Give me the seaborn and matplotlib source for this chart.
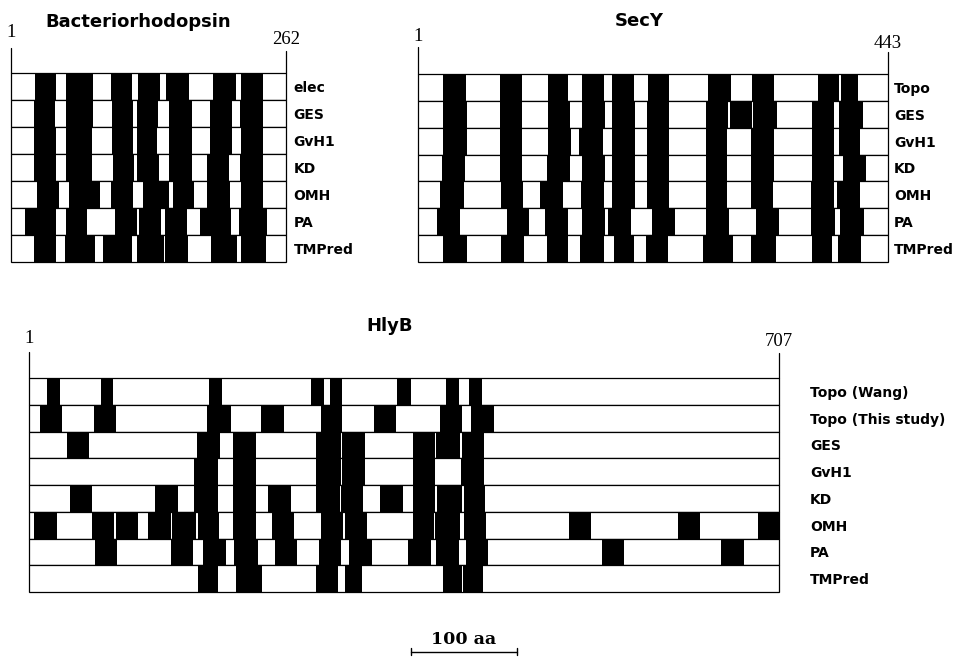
import numpy as np
import pandas as pd
import matplotlib
matplotlib.use("Agg")
import matplotlib.pyplot as plt
import seaborn as sns

# ---------------- data (residue ranges of predicted / observed TM segments) ----------------
br_length = 262
br_methods = ["elec", "GES", "GvH1", "KD", "OMH", "PA", "TMPred"]
br_elec = [(23, 43), (52, 78), (95, 115), (121, 142), (148, 170), (192, 214), (219, 240)]
br_ges = [(22, 42), (52, 78), (96, 116), (120, 140), (151, 172), (190, 211), (218, 240)]
br_gvh1 = [(22, 43), (52, 77), (96, 116), (120, 139), (151, 172), (190, 211), (219, 240)]
br_kd = [(22, 43), (52, 77), (97, 117), (120, 141), (151, 172), (187, 208), (218, 240)]
br_omh = [(25, 46), (55, 85), (95, 116), (126, 151), (154, 174), (187, 209), (219, 240)]
br_pa = [(13, 43), (52, 72), (99, 120), (122, 143), (147, 168), (180, 210), (217, 244)]
br_tmpred = [(22, 43), (51, 80), (88, 115), (120, 146), (147, 169), (191, 215), (219, 243)]

secy_length = 443
secy_methods = ["Topo", "GES", "GvH1", "KD", "OMH", "PA", "TMPred"]
secy_topo = [(24, 45), (77, 98), (123, 141), (155, 175), (183, 204), (217, 237), (273, 295), (315, 336), (377, 397), (399, 415)]
secy_ges = [(24, 46), (77, 98), (123, 143), (155, 176), (183, 205), (216, 237), (271, 292), (294, 315), (316, 338), (371, 392), (397, 419)]
secy_gvh1 = [(24, 46), (77, 98), (123, 144), (152, 174), (183, 205), (216, 237), (271, 291), (314, 336), (371, 392), (397, 417)]
secy_kd = [(23, 44), (77, 98), (122, 143), (155, 176), (183, 205), (216, 237), (271, 291), (314, 336), (371, 392), (401, 422)]
secy_omh = [(21, 43), (78, 99), (115, 137), (154, 175), (183, 205), (216, 237), (271, 291), (314, 335), (370, 392), (395, 417)]
secy_pa = [(18, 40), (84, 105), (120, 141), (155, 176), (179, 201), (221, 242), (271, 293), (319, 340), (370, 393), (398, 420)]
secy_tmpred = [(24, 46), (78, 100), (122, 141), (153, 175), (185, 204), (215, 236), (269, 297), (314, 337), (371, 390), (396, 418)]

hly_length = 707
hly_methods = ["Topo (Wang)", "Topo (This study)", "GES", "GvH1", "KD", "OMH", "PA", "TMPred"]
hly_wang = [(17, 29), (68, 79), (170, 182), (266, 278), (284, 295), (347, 360), (393, 405), (415, 427)]
hly_this = [(10, 31), (61, 82), (168, 190), (219, 240), (275, 295), (325, 346), (387, 408), (417, 438)]
hly_ges = [(36, 57), (158, 180), (192, 214), (271, 294), (295, 317), (362, 383), (384, 406), (408, 429)]
hly_gvh1 = [(156, 178), (192, 214), (271, 294), (295, 317), (362, 383), (407, 429)]
hly_kd = [(39, 59), (119, 140), (156, 178), (192, 214), (225, 247), (271, 293), (294, 315), (331, 353), (362, 383), (385, 408), (410, 430)]
hly_omh = [(5, 26), (59, 80), (82, 103), (112, 134), (135, 157), (159, 179), (192, 214), (229, 250), (275, 296), (298, 319), (362, 382), (383, 406), (410, 431), (509, 530), (612, 633), (687, 707)]
hly_pa = [(62, 83), (134, 155), (164, 186), (193, 216), (232, 253), (273, 294), (302, 323), (357, 379), (384, 405), (412, 433), (540, 561), (652, 674)]
hly_tmpred = [(159, 178), (195, 220), (271, 291), (298, 314), (390, 408), (409, 428)]

scale_len = 100
scale_label = "100 aa"

# ---------------- styling ----------------
sns.set_theme(style="white")
plt.rcParams["font.family"] = ["DejaVu Sans"]
plt.rcParams["text.color"] = "black"
plt.rcParams["ytick.color"] = "black"
plt.rcParams["ytick.labelcolor"] = "black"
SERIF = ["Liberation Serif", "DejaVu Serif"]

W, H = 957, 662
fig = plt.figure(figsize=(W / 100, H / 100), dpi=100)
fig.patch.set_facecolor("white")


def px_axes(x0, x1, y0, y1):
    return fig.add_axes([x0 / W, 1 - y1 / H, (x1 - x0) / W, (y1 - y0) / H])


def draw_panel(ax, length, methods, segs, pad):
    df = pd.DataFrame({"method": methods, "length": [length] * len(methods)})
    sns.barplot(data=df, x="length", y="method", orient="h", color="white",
                saturation=1, width=1.0, edgecolor="black", linewidth=0.9,
                errorbar=None, ax=ax)
    for i, s in enumerate(segs):
        ax.barh([i] * len(s), [e - b for b, e in s], left=[b for b, e in s],
                height=1.0, color="black", linewidth=0)
    for p in ax.patches:
        p.set_clip_on(False)
    ax.set_xlim(0, length)
    ax.set_ylim(len(methods) - 0.5, -0.5)
    ax.set_xticks([])
    ax.set_xlabel("")
    ax.set_ylabel("")
    ax.yaxis.tick_right()
    ax.tick_params(axis="y", length=0, pad=pad, labelsize=10, labelcolor="black")
    for lab in ax.get_yticklabels():
        lab.set_fontweight("bold")
    for s in ax.spines.values():
        s.set_visible(False)
    ax.set_facecolor("none")


def end_marks(ax, length, l_line, r_line, l_text_y, r_text_y):
    ax.plot([0, 0], [-0.5, -0.5 - l_line], color="black", lw=0.9, clip_on=False)
    ax.plot([length, length], [-0.5, -0.5 - r_line], color="black", lw=0.9, clip_on=False)
    ax.text(0, l_text_y, "1", ha="center", va="center", fontsize=13.5, family=SERIF)
    ax.text(length, r_text_y, str(length), ha="center", va="center", fontsize=13.5, family=SERIF)


# Bacteriorhodopsin
ax_br = px_axes(11, 286, 73, 262)
draw_panel(ax_br, br_length, br_methods,
           [br_elec, br_ges, br_gvh1, br_kd, br_omh, br_pa, br_tmpred], pad=5.5)
end_marks(ax_br, br_length, 0.93, 0.8, -1.99, -1.73)
ax_br.text(121, -2.4, "Bacteriorhodopsin", ha="center", va="center",
           fontsize=13, fontweight="bold")

# SecY
ax_sec = px_axes(418, 888, 74, 262)
draw_panel(ax_sec, secy_length, secy_methods,
           [secy_topo, secy_ges, secy_gvh1, secy_kd, secy_omh, secy_pa, secy_tmpred], pad=4.3)
end_marks(ax_sec, secy_length, 1.0, 0.82, -1.91, -1.62)
ax_sec.text(209, -2.47, "SecY", ha="center", va="center",
            fontsize=13, fontweight="bold")

# HlyB
ax_hly = px_axes(29, 779, 378, 592)
draw_panel(ax_hly, hly_length, hly_methods,
           [hly_wang, hly_this, hly_ges, hly_gvh1, hly_kd, hly_omh, hly_pa, hly_tmpred], pad=22.3)
end_marks(ax_hly, hly_length, 0.97, 0.93, -1.96, -1.86)
ax_hly.text(340, -2.44, "HlyB", ha="center", va="center",
            fontsize=13, fontweight="bold")

# scale bar
x0 = 360
yb = 9.73
ax_hly.plot([x0, x0 + scale_len], [yb, yb], color="black", lw=1.0, clip_on=False)
for xx in (x0, x0 + scale_len):
    ax_hly.plot([xx, xx], [yb - 0.13, yb + 0.13], color="black", lw=1.0, clip_on=False)
ax_hly.text(x0 + scale_len / 2, 9.26, scale_label, ha="center", va="center",
            fontsize=12.5, fontweight="bold", family=["DejaVu Serif"])

fig.savefig("out.png", dpi=100, facecolor="white")
